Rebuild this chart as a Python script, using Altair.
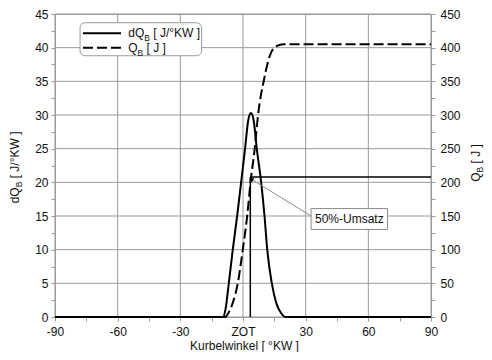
import altair as alt
import pandas as pd

# ---------------- data ----------------
dq_angle = [-90, -9.6, -8.4, -6.8, -4.9, -2.8, -0.9, 1.0, 2.4, 3.1, 3.8, 4.5, 5.2, 6.6, 8.7, 10.3, 11.6, 13.8, 15.9, 18.2, 20.6, 90]
dq_value = [0, 0, 1.1, 5, 10, 15, 20, 25, 29.0, 30.0, 30.3, 30.0, 29.0, 25, 20, 15, 10, 5, 2.1, 0.6, 0, 0]

q_angle = [-90, -8.5, -6.9, -4.9, -2.5, -0.1, 2.0, 3.6, 5.6, 7.2, 8.6, 9.9, 11.8, 14.2, 17.4, 19.5, 90]
q_value = [0, 0, 6.5, 21, 50, 100, 150, 200, 250, 300, 330, 350, 377, 397, 404, 405, 405]

x_tick_values = [-90, -75, -60, -45, -30, -15, 0, 15, 30, 45, 60, 75, 90]
x_grid = [-90, -60, -30, 0, 30, 60, 90]
yl_tick_values = [i * 2.5 for i in range(19)]
yl_grid = [0, 5, 10, 15, 20, 25, 30, 35, 40, 45]
yr_tick_values = [i * 25 for i in range(19)]

# 50 % conversion marker (crank angle, dQ-axis value)
mfb50_angle = [3.5]
mfb50_level = [20.8]
ann_text = ["50%-Umsatz"]

# ---------------- styling ----------------
FONT = "Liberation Sans"
GRAY = "#9a9a9a"
TXT = "#111111"

xs = alt.Scale(domain=[-90, 90], nice=False, zero=False)
yls = alt.Scale(domain=[0, 45], nice=False)
yrs = alt.Scale(domain=[0, 450], nice=False)

x_axis = alt.Axis(
    values=x_tick_values,
    labelExpr="datum.value == 0 ? 'ZOT' : (datum.value % 30 == 0 ? '' + datum.value : '')",
    grid=False,
    title="Kurbelwinkel [ °KW ]", titleFont=FONT, titleFontSize=12, titleFontWeight="normal",
    titleColor=TXT, titleX=189, titleY=32.5, titleBaseline="alphabetic",
    labelFont=FONT, labelFontSize=12, labelColor=TXT, labelFlush=False, labelOverlap=False,
    labelPadding=5, tickSize=4, tickColor=GRAY, domainColor=GRAY,
)
yl_axis = alt.Axis(
    values=yl_tick_values,
    labelExpr="datum.value % 5 == 0 ? '' + datum.value : ''",
    grid=False,
    title=None, labelFont=FONT, labelFontSize=12, labelColor=TXT, labelFlush=False,
    labelOverlap=False, labelPadding=3, tickSize=4, tickColor=GRAY, domainColor=GRAY,
)
yr_axis = alt.Axis(
    orient="right", values=yr_tick_values,
    labelExpr="datum.value % 50 == 0 ? '' + datum.value : ''",
    grid=False, title=None, labelFont=FONT, labelFontSize=12, labelColor=TXT,
    labelFlush=False, labelOverlap=False, labelPadding=5, tickSize=4, tickColor=GRAY,
    domainColor=GRAY,
)

df_dq = pd.DataFrame({"angle": dq_angle, "dq": dq_value})
df_q = pd.DataFrame({"angle": q_angle, "q": q_value})


def X(f):
    return alt.X(f, type="quantitative", scale=xs, axis=x_axis)


def Y(f):
    return alt.Y(f, type="quantitative", scale=yls, axis=yl_axis)


# grid
gx = alt.Chart(pd.DataFrame({"g": x_grid})).mark_rule(color=GRAY, strokeWidth=1).encode(x=X("g"))
gy = alt.Chart(pd.DataFrame({"g": yl_grid})).mark_rule(color=GRAY, strokeWidth=1).encode(y=Y("g"))

dq_line = alt.Chart(df_dq).mark_line(color="black", strokeWidth=2, interpolate="monotone").encode(
    x=X("angle"), y=Y("dq"))

# 50% conversion lines
df_m = pd.DataFrame({"a": mfb50_angle, "lvl": mfb50_level, "zero": [0], "end": [90]})
v_rule = alt.Chart(df_m).mark_rule(color="black", strokeWidth=1.5).encode(
    x=X("a"), y=Y("zero"), y2="lvl")
h_rule = alt.Chart(df_m).mark_rule(color="black", strokeWidth=1.5).encode(
    x=X("a"), x2="end", y=Y("lvl"))

# annotation
df_ann = pd.DataFrame({"x0": [4.3], "y0": [20.4], "x1": [32.6], "y1": [15.0],
                       "bx0": [32.6], "bx1": [69.2], "by0": [13.0], "by1": [16.1],
                       "tx": [50.9], "ty": [14.55], "t": ann_text})
ann_line = alt.Chart(df_ann).mark_rule(color="#8a8a8a", strokeWidth=1).encode(
    x=X("x0"), y=Y("y0"), x2="x1", y2="y1")
ann_head = alt.Chart(df_ann).mark_point(shape="triangle", filled=True, size=22, color="black",
                                        opacity=1, angle=302).encode(x=X("x0"), y=Y("y0"))
ann_box = alt.Chart(df_ann).mark_rect(fill="white", stroke="#8a8a8a", strokeWidth=1).encode(
    x=X("bx0"), x2="bx1", y=Y("by0"), y2="by1")
ann_txt = alt.Chart(df_ann).mark_text(font=FONT, fontSize=12, color=TXT, baseline="middle",
                                      align="center").encode(x=X("tx"), y=Y("ty"), text="t:N")

# legend (drawn by hand because of the subscripts)
df_lb = pd.DataFrame({"x0": [-78.0], "x1": [-19.8], "y0": [38.8], "y1": [43.7]})
leg_box = alt.Chart(df_lb).mark_rect(fill="white", stroke=GRAY, strokeWidth=1, cornerRadius=5).encode(
    x=X("x0"), x2="x1", y=Y("y0"), y2="y1")
df_ll = pd.DataFrame({"x0": [-76.6], "x1": [-58.4], "y_s": [42.14], "y_d": [40.0]})
leg_solid = alt.Chart(df_ll).mark_rule(color="black", strokeWidth=2).encode(
    x=X("x0"), x2="x1", y=Y("y_s"))
leg_dash = alt.Chart(df_ll).mark_rule(color="black", strokeWidth=2, strokeDash=[10, 4]).encode(
    x=X("x0"), x2="x1", y=Y("y_d"))

SP = 3.3  # width of a space at 12px


def leg_pieces(main, rest, main_w, xa, ya):
    out = []
    specs = [(main, 12, 0, 0), ("B", 8.5, main_w, 3.5), (rest, 12, main_w + 5.7 + SP, 0)]
    for txt, fs, dx, dy in specs:
        d = pd.DataFrame({"t": [txt], "xa": [xa], "ya": [ya]})
        out.append(alt.Chart(d).mark_text(font=FONT, fontSize=fs, color=TXT, align="left",
                                          baseline="alphabetic", dx=dx, dy=dy)
                   .encode(text="t:N", x=X("xa"), y=Y("ya")))
    return out


def title_pieces(main, rest, main_w, px, py):
    out = []
    specs = [(main, 12, 0, 0), ("B", 8.5, main_w, 3), (rest, 12, main_w + 5.7 + SP, 0)]
    for txt, fs, dx, dy in specs:
        d = pd.DataFrame({"t": [txt]})
        out.append(alt.Chart(d).mark_text(font=FONT, fontSize=fs, color=TXT, align="left",
                                          baseline="alphabetic", dx=dx, dy=dy, angle=270)
                   .encode(text="t:N", x=alt.value(px), y=alt.value(py)))
    return out


legend_layers = [leg_box, leg_solid, leg_dash] + leg_pieces("dQ", "[ J/°KW ]", 16.0, -54.9, 41.54) \
    + leg_pieces("Q", "[ J ]", 9.3, -54.9, 39.31)
title_layers = title_pieces("dQ", "[ J/°KW ]", 16.0, -36.5, 189.3) + title_pieces("Q", "[ J ]", 9.3, 424.5, 167.7)

left = alt.layer(gx, gy, dq_line, v_rule, h_rule, ann_line, ann_box, ann_txt, ann_head,
                 *legend_layers, *title_layers)

q_line = alt.Chart(df_q).mark_line(color="black", strokeWidth=2, strokeDash=[10, 4],
                                   interpolate="monotone").encode(
    x=alt.X("angle:Q", scale=xs, axis=x_axis),
    y=alt.Y("q:Q", scale=yrs, axis=yr_axis),
)

chart = alt.layer(left, q_line).resolve_scale(y="independent").properties(
    width=376, height=303,
    autosize=alt.AutoSizeParams(type="none"),
    padding={"left": 47, "top": 6, "right": 53, "bottom": 35},
).configure_view(stroke=GRAY, strokeWidth=1)

chart.save("out.html", embed_options={"renderer": "svg", "actions": False})
